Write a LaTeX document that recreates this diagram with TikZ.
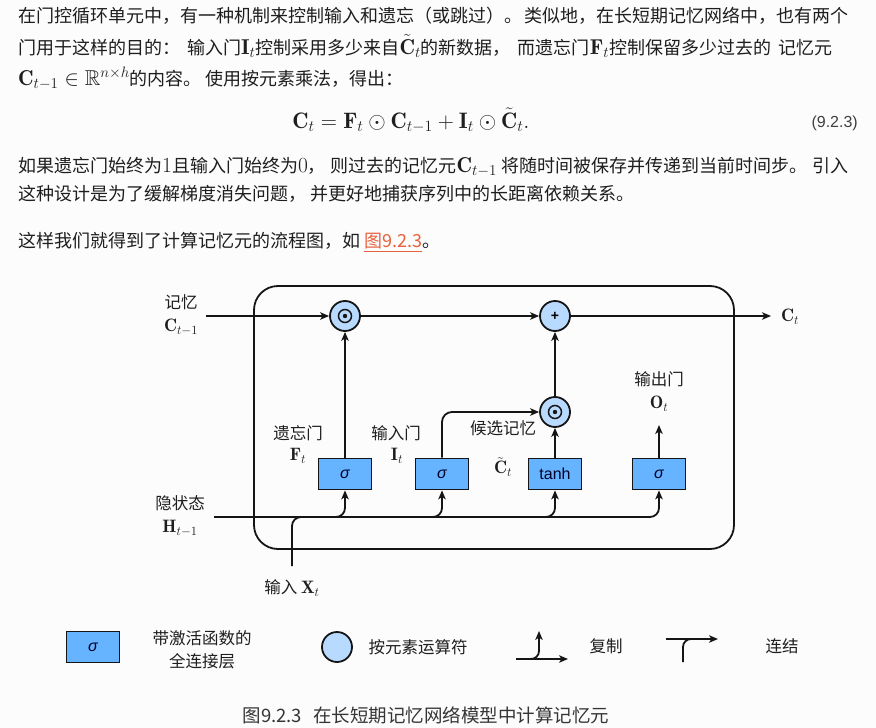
\RequirePackage{fix-cm}
\documentclass[tikz,border=0pt]{standalone}
\usepackage{amsmath,amssymb}
\usepackage{fontspec}
\usetikzlibrary{arrows.meta,calc}
\newfontfamily\cjk{Noto Sans CJK SC}
\newfontfamily\lsans{Liberation Sans}
\XeTeXlinebreaklocale "zh"
\XeTeXlinebreakskip=0pt plus 3pt minus 0.6pt
\newcommand\mth[1]{{\fontsize{21.5}{24}\selectfont$#1$}}
\definecolor{bodytext}{HTML}{1E1E1E}
\definecolor{boxfill}{HTML}{66B3FF}
\definecolor{opfill}{HTML}{B8DAFF}
\definecolor{linkred}{HTML}{E8603C}
\definecolor{pagebg}{HTML}{FCFCFC}
\definecolor{inkline}{HTML}{151515}

\tikzset{
  para/.style={anchor=base west, inner sep=0, text=bodytext,
    font=\cjk\fontsize{18}{22}\selectfont},
  wire/.style={line width=1.8pt, draw=inkline},
  arr/.style={wire, -{Stealth[length=9pt,width=7.5pt,inset=2.5pt]}},
  layer/.style={draw=inkline, line width=1.8pt, fill=boxfill,
    minimum width=53pt, minimum height=31pt, inner sep=0,
    text=black!85!blue, font=\lsans\fontsize{16}{16}\selectfont},
  op/.style={circle, draw=inkline, line width=1.8pt, fill=opfill,
    minimum size=30pt, inner sep=0},
  lbl/.style={inner sep=0, text=bodytext, font=\cjk\fontsize{16.5}{23}\selectfont},
  mlbl/.style={inner sep=0, text=bodytext, font=\fontsize{18}{20}\selectfont},
}

\begin{document}
\begin{tikzpicture}[x=1pt,y=-1pt]
  \fill[pagebg] (0,0) rectangle (876,728);
  \useasboundingbox (0,0) rectangle (876,728);

  % ---- running text ----
  \node[para] (l1) at (18,22) {\makebox[830pt][s]{在门控循环单元中，有一种机制来控制输入和遗忘（或跳过）。 类似地，在长短期记忆网络中，也有两个}};
  \node[para] (l2) at (18,54) {\makebox[814pt][s]{门用于这样的目的： 输入门\mth{\mathbf{I}_t}控制采用多少来自\mth{\tilde{\mathbf{C}}_t}的新数据， 而遗忘门\mth{\mathbf{F}_t}控制保留多少过去的 记忆元}};
  \node[para] (l3) at (18,85) {\mth{\mathbf{C}_{t-1} \in \mathbb{R}^{n\times h}}的内容。 使用按元素乘法，得出：};
  \node[anchor=base, inner sep=0, text=bodytext, font=\fontsize{22.4}{24}\selectfont] (eq) at (411,128)
    {$\mathbf{C}_t = \mathbf{F}_t \odot \mathbf{C}_{t-1} + \mathbf{I}_t \odot \tilde{\mathbf{C}}_t.$};
  \node[anchor=base east, inner sep=0, text=bodytext!85, font=\lsans\fontsize{16}{18}\selectfont] (eqno) at (858,127) {(9.2.3)};
  \node[para] (l4) at (18,172) {\makebox[830pt][s]{如果遗忘门始终为\mth{1}且输入门始终为\mth{0}， 则过去的记忆元\mth{\mathbf{C}_{t-1}} 将随时间被保存并传递到当前时间步。 引入}};
  \node[para] (l5) at (18,200) {这种设计是为了缓解梯度消失问题， 并更好地捕获序列中的长距离依赖关系。};
  \node[para] (l6) at (18,247) {这样我们就得到了计算记忆元的流程图，如 {\color{linkred}\underline{图9.2.3}}。};

  % ---- LSTM memory cell ----
  \node[draw=inkline, line width=1.8pt, rounded corners=24pt,
        minimum width=480pt, minimum height=263pt, inner sep=0] (cell) at (494,417.5) {};

  \node[layer] (fg) at (345,474) {\itshape σ};
  \node[layer] (ig) at (442,474) {\itshape σ};
  \node[layer] (cg) at (555,474) {tanh};
  \node[layer] (og) at (659,474) {\itshape σ};

  \node[op] (m1) at (345,316) {};
  \node[op] (add) at (555,316) {};
  \node[op] (m2) at (555,412) {};
  \foreach \o in {m1,m2} {
    \draw[line width=1.5pt, draw=inkline] (\o) circle[radius=6.5pt];
    \fill[inkline] (\o) circle[radius=2.2pt];
  }
  \node[inner sep=0, font=\lsans\bfseries\fontsize{14}{14}\selectfont] at (add) {+};

  \coordinate (cin) at (206,316);
  \coordinate (cout) at (771,316);
  \coordinate (hin) at (214,517);
  \coordinate (xin) at (292,566);
  \coordinate (xj) at (314,517);
  \coordinate (oout) at (659,425);

  % memory path
  \draw[arr] (cin) -- (m1);
  \draw[arr] (m1) -- (add);
  \draw[arr] (add) -- (cout);
  % gate outputs
  \draw[arr] (fg) -- (m1);
  \draw[arr, rounded corners=10pt] (ig.north) |- (m2.west);
  \draw[arr] (cg) -- (m2);
  \draw[arr] (m2) -- (add);
  \draw[arr] (og.north) -- (oout);
  % hidden state, copied into every layer
  \draw[arr, rounded corners=9pt] (hin) -| (og.south);
  \foreach \g in {fg,ig,cg}
    \draw[arr, rounded corners=9pt] ($(\g.south|-hin)+(-12,0)$) -| (\g.south);
  % input joins the hidden state
  \draw[wire, rounded corners=9pt] (xin) |- (xj);

  % labels
  \node[lbl] (tc1) at (181,302) {记忆};
  \node[mlbl] (tc2) at (181,327) {$\mathbf{C}_{t-1}$};
  \node[lbl] (th1) at (180,503) {隐状态};
  \node[mlbl] (th2) at (180,528) {$\mathbf{H}_{t-1}$};
  \node[lbl] (tx) at (292,588) {输入 {\fontsize{18}{20}\selectfont$\mathbf{X}_t$}};
  \node[lbl] (tf1) at (298,433) {遗忘门};
  \node[mlbl] (tf2) at (298,456) {$\mathbf{F}_t$};
  \node[lbl] (ti1) at (396,433) {输入门};
  \node[mlbl] (ti2) at (397,456) {$\mathbf{I}_t$};
  \node[lbl] (tcc1) at (503,428) {候选记忆};
  \node[mlbl] (tcc2) at (503,467) {$\tilde{\mathbf{C}}_t$};
  \node[lbl] (to1) at (659,379) {输出门};
  \node[mlbl] (to2) at (659,404) {$\mathbf{O}_t$};
  \node[mlbl] (tco) at (790,317) {$\mathbf{C}_t$};

  % ---- legend ----
  \node[layer] (lgbox) at (93,647) {\itshape σ};
  \node[lbl, align=center] (lgt1) at (202,650) {带激活函数的\\全连接层};
  \node[op] (lgop) at (337,647) {};
  \node[lbl] (lgt2) at (418,647) {按元素运算符};

  \coordinate (cpa) at (516,659);
  \coordinate (cpb) at (568,659);
  \coordinate (cpc) at (539,631);
  \draw[arr] (cpa) -- (cpb);
  \draw[arr, rounded corners=8pt] ($(cpc|-cpa)+(-12,0)$) -| (cpc);
  \node[lbl] (lgt3) at (606,646) {复制};

  \coordinate (cca) at (683,662);
  \coordinate (ccs) at (666,639);
  \coordinate (ccb) at (718,639);
  \draw[arr] (ccs) -- (ccb);
  \draw[wire, rounded corners=8pt] (cca) |- ($(cca|-ccb)+(14,0)$);
  \node[lbl] (lgt4) at (782,646) {连结};

  % caption
  \node[inner sep=0, text=bodytext!90, font=\cjk\fontsize{18.5}{20}\selectfont] (cap) at (426,715)
    {图9.2.3\hspace{0.6em}在长短期记忆网络模型中计算记忆元};
\end{tikzpicture}
\end{document}
